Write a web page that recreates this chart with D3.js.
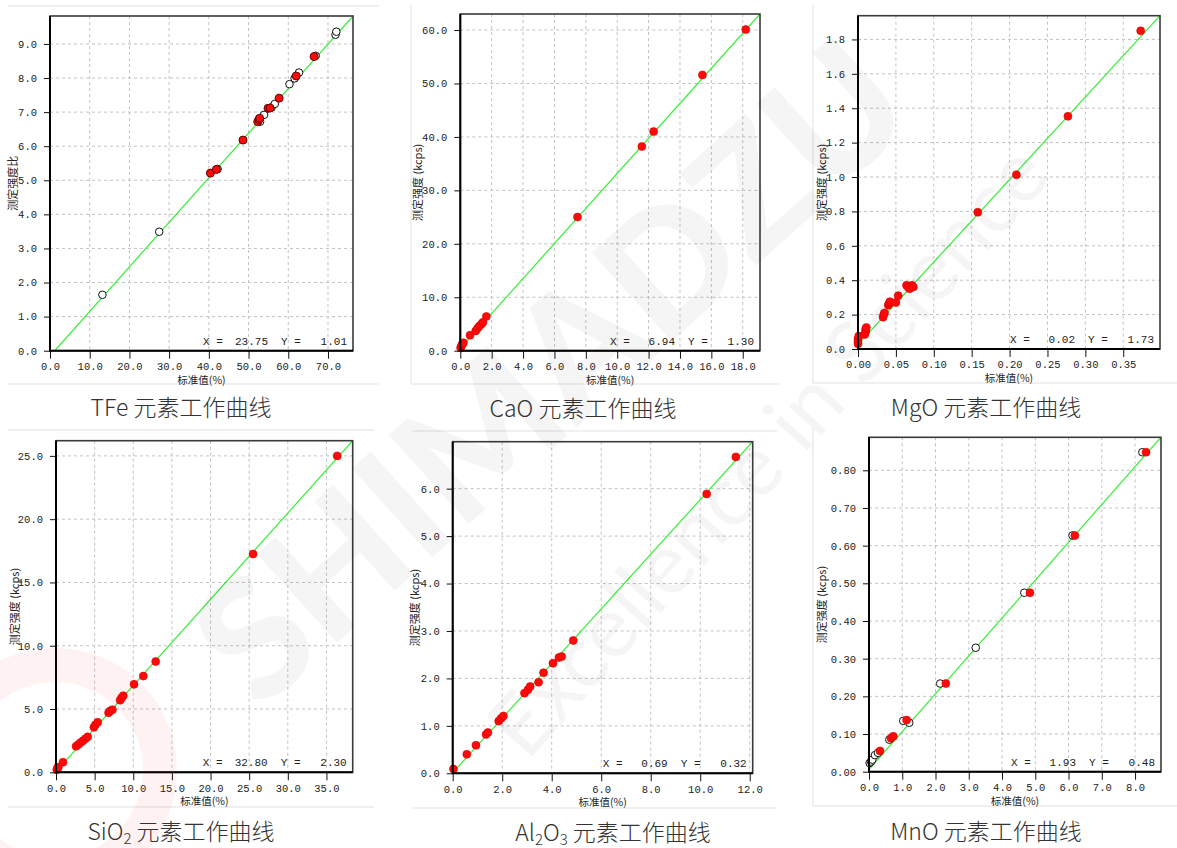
<!DOCTYPE html>
<html>
<head>
<meta charset="utf-8">
<script src="https://cdn.jsdelivr.net/npm/d3@7"></script>
<style>
body { margin: 0; background: #fff; }
svg { display: block; }
</style>
</head>
<body>
<div id="wrapper"></div>
<script>
// ---- data ----
// TFe (red = current, open = other standards)
const tfeRedX = [40.4, 41.9, 48.6, 52.3, 52.6, 52.8, 54.9, 55.4, 57.7, 62.0, 66.5]
const tfeRedY = [5.21, 5.32, 6.18, 6.72, 6.78, 6.82, 7.11, 7.12, 7.41, 8.06, 8.63]
const tfeOpenX = [13.2, 27.5, 42.2, 52.9, 53.9, 55.8, 56.6, 60.3, 61.6, 62.7, 66.9, 71.9, 72.1]
const tfeOpenY = [1.64, 3.49, 5.33, 6.72, 6.92, 7.14, 7.24, 7.82, 7.99, 8.16, 8.65, 9.27, 9.36]
const tfeLine = [[1.2, 0], [76.3, 9.82]]

// CaO
const caoX = [0.02, 0.05, 0.1, 0.15, 0.2, 0.62, 0.98, 1.1, 1.22, 1.35, 1.44, 1.66, 7.47, 11.57, 12.32, 15.43, 18.19]
const caoY = [0.5, 0.8, 1.1, 1.3, 1.5, 2.9, 3.7, 4.2, 4.6, 5.0, 5.3, 6.4, 25.0, 38.2, 41.0, 51.6, 60.1]
const caoLine = [[0, 0.4], [19.1, 63.0]]

// MgO
const mgoX = [0, 0, 0, 0.001, 0.009, 0.01, 0.01, 0.011, 0.033, 0.034, 0.035, 0.04, 0.041, 0.042, 0.05, 0.053, 0.064, 0.066, 0.068, 0.071, 0.073, 0.158, 0.209, 0.277, 0.373]
const mgoY = [0.03, 0.045, 0.06, 0.075, 0.085, 0.1, 0.115, 0.125, 0.185, 0.2, 0.21, 0.255, 0.265, 0.275, 0.27, 0.31, 0.37, 0.36, 0.35, 0.37, 0.36, 0.795, 1.013, 1.353, 1.85]
const mgoLine = [[0.003, 0.04], [0.3985, 1.938]]

// SiO2
const sio2X = [0.1, 0.2, 0.3, 0.9, 2.6, 2.9, 3.2, 3.5, 3.8, 4.1, 4.9, 5.1, 5.4, 6.8, 7.0, 7.3, 8.3, 8.5, 8.7, 10.1, 11.3, 12.9, 25.5, 36.4]
const sio2Y = [0.2, 0.35, 0.4, 0.8, 2.05, 2.2, 2.35, 2.5, 2.65, 2.8, 3.55, 3.75, 3.95, 4.7, 4.85, 4.95, 5.7, 5.9, 6.05, 6.95, 7.6, 8.75, 17.25, 25.0]
const sio2Line = [[0, 0.05], [38.4, 26.2]]

// Al2O3
const al2o3X = [0.03, 0.57, 0.94, 1.35, 1.42, 1.86, 1.96, 2.05, 2.9, 3.04, 3.13, 3.47, 3.67, 4.05, 4.29, 4.4, 4.87, 10.26, 11.44]
const al2o3Y = [0.09, 0.4, 0.59, 0.82, 0.86, 1.1, 1.16, 1.21, 1.69, 1.76, 1.83, 1.92, 2.12, 2.32, 2.44, 2.46, 2.8, 5.89, 6.67]
const al2o3Line = [[0, 0.01], [12.12, 6.99]]

// MnO
const mnoRedX = [0.33, 0.66, 0.73, 1.13, 2.31, 4.84, 6.19, 8.33]
const mnoRedY = [0.055, 0.089, 0.094, 0.137, 0.234, 0.475, 0.627, 0.848]
const mnoOpenX = [0.02, 0.06, 0.1, 0.18, 0.27, 0.61, 1.03, 1.21, 2.14, 3.21, 4.67, 6.12, 8.22]
const mnoOpenY = [0.023, 0.027, 0.032, 0.044, 0.05, 0.085, 0.135, 0.13, 0.234, 0.329, 0.475, 0.627, 0.848]
const mnoLine = [[0.03, 0.009], [8.78, 0.888]]

const readoutX = ['23.75', '6.94', '0.02', '32.80', '0.69', '1.93']
const readoutY = ['1.01', '1.30', '1.73', '2.30', '0.32', '0.48']
const yTitles = ['测定强度比', '测定强度 (kcps)', '测定强度 (kcps)', '测定强度 (kcps)', '测定强度 (kcps)', '测定强度 (kcps)']
const captions = [['TFe', ''], ['CaO', ''], ['MgO', ''], ['SiO', '2'], ['Al', '2', 'O', '3'], ['MnO', '']]

const zip = (xs, ys) => xs.map((x, i) => ({ x: x, y: ys[i] }))

// ---- layout ----
const panels = [
    { left: 50, top: 16, right: 353, bottom: 350.7, xDomain: [0, 76.3], yDomain: [0, 9.82],
      xStep: 10, yStep: 1, xFmt: '.1f', yFmt: '.1f', yMinor: 5,
      red: zip(tfeRedX, tfeRedY), open: zip(tfeOpenX, tfeOpenY), line: tfeLine, redStroke: '#600',
      yTitleX: 13, capX: 181, capY: 416 },
    { left: 460.3, top: 14, right: 760, bottom: 350.7, xDomain: [0, 19.1], yDomain: [0, 63.0],
      xStep: 2, yStep: 10, xFmt: '.1f', yFmt: '.1f', yMinor: 5,
      red: zip(caoX, caoY), open: [], line: caoLine,
      yTitleX: 418, capX: 583, capY: 417 },
    { left: 858, top: 15.7, right: 1160, bottom: 349, xDomain: [0, 0.3985], yDomain: [0, 1.938],
      xStep: 0.05, yStep: 0.2, xFmt: '.2f', yFmt: '.1f', yMinor: 4,
      red: zip(mgoX, mgoY), open: [], line: mgoLine,
      yTitleX: 822, capX: 986, capY: 416 },
    { left: 56, top: 440.7, right: 352.7, bottom: 772.3, xDomain: [0, 38.4], yDomain: [0, 26.2],
      xStep: 5, yStep: 5, xFmt: '.1f', yFmt: '.1f', yMinor: 5,
      red: zip(sio2X, sio2Y), open: [], line: sio2Line,
      yTitleX: 15, capX: 181, capY: 840 },
    { left: 452.7, top: 441.7, right: 752.7, bottom: 773.3, xDomain: [0, 12.12], yDomain: [0, 6.99],
      xStep: 2, yStep: 1, xFmt: '.1f', yFmt: '.1f', yMinor: 5,
      red: zip(al2o3X, al2o3Y), open: [], line: al2o3Line,
      yTitleX: 415, capX: 613, capY: 841 },
    { left: 869, top: 437.3, right: 1161, bottom: 771.7, xDomain: [0, 8.78], yDomain: [0, 0.8876],
      xStep: 1, yStep: 0.1, xFmt: '.1f', yFmt: '.2f', yMinor: 4,
      red: zip(mnoRedX, mnoRedY), open: zip(mnoOpenX, mnoOpenY), line: mnoLine,
      yTitleX: 822, capX: 986, capY: 840 }
]

// light frame lines of the page the charts were pasted in
const frameLines = [
    [8, 6, 379, 6], [8, 384, 379, 384],
    [411, 5, 411, 384], [411, 384, 780, 384],
    [813, 5, 813, 383], [813, 383, 1177, 383],
    [8, 430, 374, 430], [8, 807, 374, 807],
    [412, 431, 777, 431], [412, 808, 777, 808],
    [813, 428, 813, 806], [813, 806, 1177, 806]
]

const width = 1177
const height = 848
const monoFont = '"Liberation Mono", "DejaVu Sans Mono", monospace'
const cjkFont = '"Noto Sans CJK SC", "Noto Sans", sans-serif'

const svg = d3.select('#wrapper').append('svg')
    .attr('width', width)
    .attr('height', height)

svg.selectAll('.pageline')
    .data(frameLines)
    .enter()
    .append('line')
    .attr('x1', d => d[0]).attr('y1', d => d[1])
    .attr('x2', d => d[2]).attr('y2', d => d[3])
    .attr('stroke', '#ebebeb')
    .attr('stroke-width', 1.5)

function ticksFor(domain, step, div) {
    const out = []
    const n = Math.floor(domain[1] / (step / div) + 1e-6)
    for (let i = 0; i <= n; i++) out.push(+(i * step / div).toFixed(6))
    return out
}

function drawPanel(p, i) {
    const xScale = d3.scaleLinear().domain(p.xDomain).range([p.left, p.right])
    const yScale = d3.scaleLinear().domain(p.yDomain).range([p.bottom, p.top])
    const g = svg.append('g')

    const xMajor = ticksFor(p.xDomain, p.xStep, 1)
    const yMajor = ticksFor(p.yDomain, p.yStep, 1)

    // dashed grid
    g.selectAll('.vgrid')
        .data(xMajor.filter(d => d > 0))
        .enter()
        .append('line')
        .attr('x1', d => xScale(d)).attr('x2', d => xScale(d))
        .attr('y1', p.top).attr('y2', p.bottom)
        .attr('stroke', '#c2c2c2')
        .attr('stroke-dasharray', '3,3')
    g.selectAll('.hgrid')
        .data(yMajor.filter(d => d > 0))
        .enter()
        .append('line')
        .attr('x1', p.left).attr('x2', p.right)
        .attr('y1', d => yScale(d)).attr('y2', d => yScale(d))
        .attr('stroke', '#c2c2c2')
        .attr('stroke-dasharray', '3,3')

    // fit line, clipped to the plot
    const clipId = 'clip' + i
    g.append('clipPath').attr('id', clipId)
        .append('rect')
        .attr('x', p.left).attr('y', p.top)
        .attr('width', p.right - p.left).attr('height', p.bottom - p.top)
    g.append('path')
        .datum(p.line)
        .attr('clip-path', `url(#${clipId})`)
        .attr('d', d3.line().x(d => xScale(d[0])).y(d => yScale(d[1])))
        .attr('fill', 'none')
        .attr('stroke', '#33ee33')
        .attr('stroke-width', 1.2)

    // points
    g.selectAll('.open')
        .data(p.open)
        .enter()
        .append('circle')
        .attr('cx', d => xScale(d.x))
        .attr('cy', d => yScale(d.y))
        .attr('r', 3.8)
        .attr('fill', '#fff')
        .attr('stroke', '#111')
        .attr('stroke-width', 1)
    g.selectAll('.red')
        .data(p.red)
        .enter()
        .append('circle')
        .attr('cx', d => xScale(d.x))
        .attr('cy', d => yScale(d.y))
        .attr('r', 4)
        .attr('fill', '#ff0a0a')
        .attr('stroke', p.redStroke || '#e00000')
        .attr('stroke-width', p.redStroke ? 1 : 0.6)

    // minor / medium ticks
    const xAxisG = g.append('g').attr('transform', `translate(0,${p.bottom})`)
    xAxisG.call(d3.axisBottom(xScale).tickValues(ticksFor(p.xDomain, p.xStep, 10)).tickSize(3).tickFormat(''))
    xAxisG.call(d3.axisBottom(xScale).tickValues(ticksFor(p.xDomain, p.xStep, 2)).tickSize(5).tickFormat(''))
    xAxisG.call(d3.axisBottom(xScale).tickValues(xMajor).tickSize(8).tickPadding(4).tickFormat(d3.format(p.xFmt)))
    const yAxisG = g.append('g').attr('transform', `translate(${p.left},0)`)
    yAxisG.call(d3.axisLeft(yScale).tickValues(ticksFor(p.yDomain, p.yStep, p.yMinor)).tickSize(3).tickFormat(''))
    yAxisG.call(d3.axisLeft(yScale).tickValues(yMajor).tickSize(6).tickPadding(7).tickFormat(d3.format(p.yFmt)))
    g.selectAll('.domain').remove()
    g.selectAll('.tick line').attr('stroke', '#111')
    g.selectAll('.tick text')
        .attr('fill', '#222')
        .style('font-family', monoFont)
        .style('font-size', '10.5px')

    // frame
    g.append('rect')
        .attr('x', p.left).attr('y', p.top)
        .attr('width', p.right - p.left).attr('height', p.bottom - p.top)
        .attr('fill', 'none')
        .attr('stroke', '#3a3a3a')
        .attr('stroke-width', 1.6)
    g.append('path')
        .attr('d', `M${p.left},${p.top}V${p.bottom}H${p.right}`)
        .attr('fill', 'none')
        .attr('stroke', '#000')
        .attr('stroke-width', 2)

    // X = / Y = readout
    const ro = g.append('g')
        .style('font-family', monoFont)
        .style('font-size', '11px')
        .attr('fill', '#222')
    const by = p.bottom - 6
    ro.append('text').attr('x', p.right - 150).attr('y', by).text('X =')
    ro.append('text').attr('x', p.right - 85).attr('y', by).attr('text-anchor', 'end').text(readoutX[i])
    ro.append('text').attr('x', p.right - 72).attr('y', by).text('Y =')
    ro.append('text').attr('x', p.right - 6).attr('y', by).attr('text-anchor', 'end').text(readoutY[i])

    // axis titles
    g.append('text')
        .attr('x', (p.left + p.right) / 2)
        .attr('y', p.bottom + 33)
        .attr('text-anchor', 'middle')
        .style('font-family', cjkFont)
        .style('font-size', '10.5px')
        .attr('fill', '#222')
        .text('标准值(%)')
    g.append('text')
        .attr('transform', `translate(${p.yTitleX},${(p.top + p.bottom) / 2}) rotate(-90)`)
        .attr('text-anchor', 'middle')
        .attr('dy', '0.35em')
        .style('font-family', cjkFont)
        .style('font-size', '11px')
        .attr('fill', '#222')
        .text(yTitles[i])

    // caption under the chart
    const cap = svg.append('text')
        .attr('x', p.capX)
        .attr('y', p.capY)
        .attr('text-anchor', 'middle')
        .style('font-family', cjkFont)
        .style('font-weight', 300)
        .style('font-size', '23px')
        .attr('fill', '#333')
    const parts = captions[i]
    parts.forEach((s, k) => {
        if (!s) return
        const sub = k % 2 === 1
        cap.append('tspan')
            .attr('dy', sub ? 4 : (k > 0 ? -4 : 0))
            .style('font-size', sub ? '15px' : null)
            .text(s)
    })
    cap.append('tspan').attr('dy', parts[1] ? -4 : 0).text(' 元素工作曲线')
}

panels.forEach(drawPanel)

// faint watermark over the page
const wm = svg.append('g').style('pointer-events', 'none')
wm.append('circle')
    .attr('cx', 55).attr('cy', 770)
    .attr('r', 105)
    .attr('fill', 'none')
    .attr('stroke', '#e60012')
    .attr('stroke-width', 34)
    .attr('opacity', 0.05)
wm.append('text')
    .attr('transform', 'translate(590,415) rotate(-42)')
    .attr('text-anchor', 'middle')
    .style('font-family', 'Lato, "Noto Sans", sans-serif')
    .style('font-weight', 900)
    .style('font-size', '165px')
    .attr('fill', '#000')
    .attr('opacity', 0.035)
    .text('SHIMADZU')
wm.append('text')
    .attr('transform', 'translate(790,470) rotate(-48)')
    .attr('text-anchor', 'middle')
    .style('font-family', 'Lato, "Noto Sans", sans-serif')
    .style('font-size', '85px')
    .attr('fill', '#000')
    .attr('opacity', 0.035)
    .text('Excellence in Science')
</script>
</body>
</html>
